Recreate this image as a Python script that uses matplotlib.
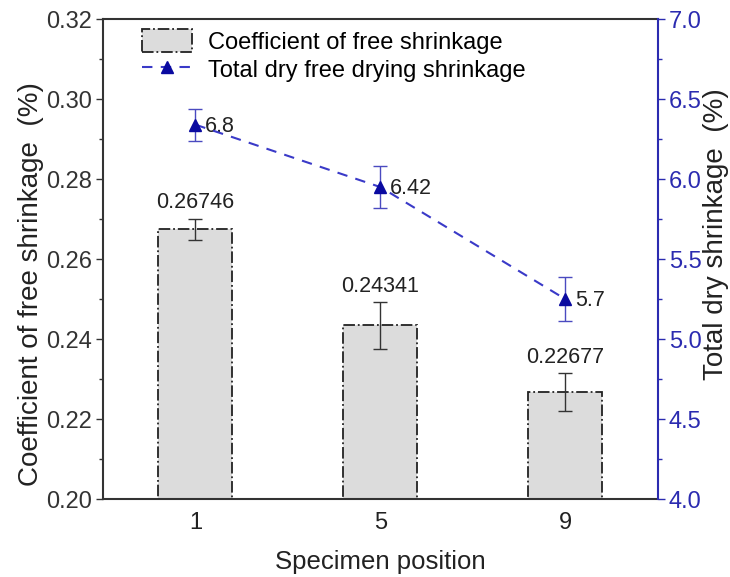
import matplotlib
matplotlib.use("Agg")
import matplotlib.pyplot as plt
from matplotlib.ticker import MultipleLocator, AutoMinorLocator, FormatStrFormatter

plt.rcParams['font.family'] = ['Liberation Sans', 'DejaVu Sans']

positions = [1, 5, 9]
coef_values = [0.26746, 0.24341, 0.22677]
coef_errors = [0.0026, 0.0058, 0.0047]
coef_labels = ["0.26746", "0.24341", "0.22677"]

dry_values = [6.34, 5.95, 5.25]
dry_errors = [0.10, 0.13, 0.14]
dry_labels = ["6.8", "6.42", "5.7"]

blue = "#2b2bb0"
spine_dark = "#333333"

fig = plt.figure(figsize=(7.3, 5.77), dpi=100)
ax = fig.add_axes([0.141, 0.135, 0.760, 0.832])

bars = ax.bar(positions, coef_values, width=1.6, color="#dcdcdc",
              edgecolor="#222222", linestyle="-.", linewidth=1.3, zorder=2,
              label="Coefficient of free shrinkage")
ax.errorbar(positions, coef_values, yerr=coef_errors, fmt="none",
            ecolor="#333333", elinewidth=1.0, capsize=5, capthick=1.0, zorder=3)
for x, v, e, lab in zip(positions, coef_values, coef_errors, coef_labels):
    ax.annotate(lab, xy=(x, v + e), xytext=(0, 4), textcoords="offset points",
                ha="center", va="bottom", fontsize=15.5, color="#222222")

ax.set_xlim(-1, 11)
ax.set_ylim(0.20, 0.32)
ax.set_xticks(positions)
ax.set_xticklabels([str(p) for p in positions])
ax.yaxis.set_major_locator(MultipleLocator(0.02))
ax.yaxis.set_minor_locator(AutoMinorLocator(2))
ax.yaxis.set_major_formatter(FormatStrFormatter("%.2f"))
ax.tick_params(axis="y", which="major", length=5, width=1.0, labelsize=17,
               colors=spine_dark, direction="out", pad=3)
ax.tick_params(axis="y", which="minor", length=3, width=1.0, colors=spine_dark)
ax.tick_params(axis="x", length=0, labelsize=17, pad=9, colors="#222222")
for s in ["left", "bottom", "top"]:
    ax.spines[s].set_color(spine_dark)
    ax.spines[s].set_linewidth(1.5)
ax.spines["right"].set_visible(False)
ax.set_xlabel("Specimen position", fontsize=18.5, labelpad=12, color="#222222")
ax.set_ylabel("Coefficient of free shrinkage  (%)", fontsize=20, color="#222222")
ax.yaxis.set_label_coords(-0.130, 0.448)
ax.yaxis.label.set_verticalalignment("center")

ax2 = ax.twinx()
ax2.set_ylim(4.0, 7.0)
ax2.errorbar(positions, dry_values, yerr=dry_errors, fmt="none",
             ecolor="#4a4ac0", elinewidth=1.0, capsize=5, capthick=1.0, zorder=4)
ln, = ax2.plot(positions, dry_values, linestyle=(0, (5, 4)), color="#3a3ac8",
               linewidth=1.5, marker="^", markersize=8, markerfacecolor="#0a0aa0",
               markeredgecolor="#0a0aa0", label="Total dry free drying shrinkage", zorder=5)
for x, v, lab in zip(positions, dry_values, dry_labels):
    ax2.annotate(lab, xy=(x, v), xytext=(7, -1), textcoords="offset points",
                 ha="left", va="center", fontsize=15.5, color="#222222")

ax2.yaxis.set_major_locator(MultipleLocator(0.5))
ax2.yaxis.set_minor_locator(AutoMinorLocator(2))
ax2.yaxis.set_major_formatter(FormatStrFormatter("%.1f"))
ax2.tick_params(axis="y", which="major", length=5, width=1.0, labelsize=17,
                colors=blue, direction="out", pad=3)
ax2.tick_params(axis="y", which="minor", length=3, width=1.0, colors=blue)
ax2.spines["right"].set_color(blue)
ax2.spines["right"].set_linewidth(1.5)
for s in ["left", "bottom", "top"]:
    ax2.spines[s].set_visible(False)
ax2.set_ylabel("Total dry shrinkage  (%)", fontsize=20, color="#222222")
ax2.yaxis.set_label_coords(1.105, 0.552)
ax2.yaxis.label.set_verticalalignment("center")

leg = ax.legend([bars, ln], ["Coefficient of free shrinkage", "Total dry free drying shrinkage"],
                loc="upper left", bbox_to_anchor=(0.045, 1.008), frameon=False,
                fontsize=17, handlelength=2.1, handleheight=1.1, handletextpad=0.7,
                labelspacing=0.15, borderaxespad=0.2)

fig.savefig("out.png", dpi=100)
